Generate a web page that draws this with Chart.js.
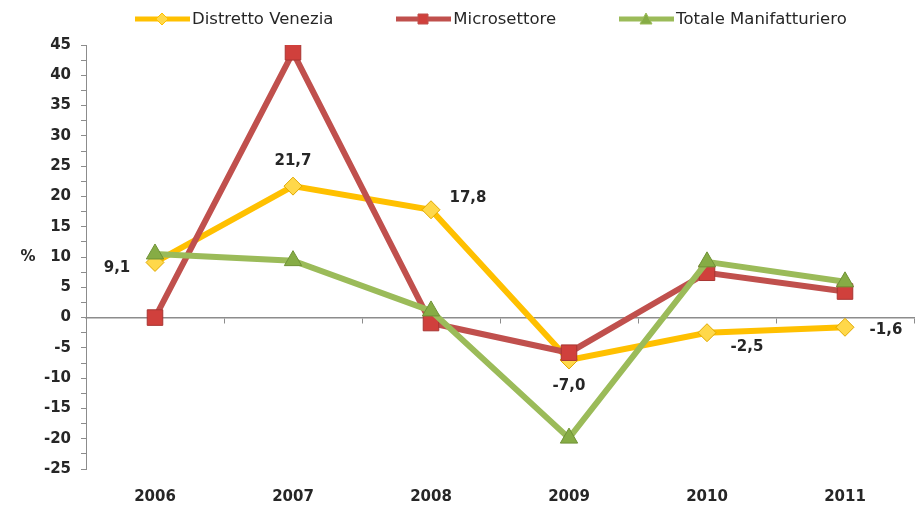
<!DOCTYPE html>
<html lang="it">
<head>
<meta charset="UTF-8">
<title>Variazione % 2006-2011</title>
<script src="https://cdn.jsdelivr.net/npm/chart.js"></script>
<style>
  html, body { margin: 0; padding: 0; background: #fff; }
  .contenitore { position: relative; width: 919px; height: 511px; }
  #legenda {
    position: absolute; top: 9px; left: 135px;
    display: flex; gap: 63px;
    font: 16.5px "DejaVu Sans"; color: #262626;
  }
  #legenda .voce { display: flex; align-items: center; gap: 2px; white-space: nowrap; }
  #legenda canvas { display: block; }
</style>
</head>
<body>
<div class="contenitore">
  <div id="legenda"></div>
  <canvas id="grafico"></canvas>
</div>
<script>
// dati
const anni = ['2006', '2007', '2008', '2009', '2010', '2011'];
const distrettoVenezia = [9.1, 21.7, 17.8, -7.0, -2.5, -1.6];
const microsettore = [0.0, 43.8, -0.9, -5.8, 7.4, 4.3];
const totaleManifatturiero = [10.5, 9.4, 1.1, -19.9, 9.2, 5.9];
const scalaMin = -25;
const scalaMax = 45;
const scalaPasso = 2.5;

const GIALLO = '#FFC000';
const ROSSO = '#C0504D';
const VERDE = '#9BBB59';
const TESTO = '#262626';
const ASSE = '#8c8c8c';

// icona linea + marcatore per la legenda
function iconaLegenda(colore, riempimento, forma) {
  const c = document.createElement('canvas');
  c.width = 55; c.height = 16;
  const g = c.getContext('2d');
  g.strokeStyle = colore;
  g.lineWidth = 5;
  g.beginPath(); g.moveTo(0, 8); g.lineTo(55, 8); g.stroke();
  g.fillStyle = riempimento;
  g.lineWidth = 1;
  g.beginPath();
  if (forma === 'rectRot') {
    g.moveTo(27, 2); g.lineTo(33, 8); g.lineTo(27, 14); g.lineTo(21, 8);
  } else if (forma === 'rect') {
    g.rect(22, 3, 10, 10);
  } else {
    g.moveTo(27, 2); g.lineTo(33, 13); g.lineTo(21, 13);
  }
  g.closePath(); g.fill(); g.stroke();
  return c;
}

// legenda html costruita dai dataset
const legendaHtml = {
  id: 'legendaHtml',
  afterUpdate(chart) {
    const box = document.getElementById('legenda');
    box.innerHTML = '';
    chart.data.datasets.forEach(function (ds) {
      const voce = document.createElement('div');
      voce.className = 'voce';
      voce.appendChild(iconaLegenda(ds.borderColor, ds.backgroundColor, ds.pointStyle));
      const t = document.createElement('span');
      t.textContent = ds.label;
      voce.appendChild(t);
      box.appendChild(voce);
    });
  }
};

// posizione delle etichette rispetto al punto (serie Distretto Venezia)
const spostamenti = [[-38, 6], [0, -25], [37, -12], [0, 26], [40, 14], [41, 3]];

function formato(v) {
  return v.toFixed(1).replace('.', ',');
}

const etichetteDati = {
  id: 'etichetteDati',
  afterDatasetsDraw(chart) {
    const meta = chart.getDatasetMeta(0);
    const ctx = chart.ctx;
    ctx.save();
    ctx.font = 'bold 15px "DejaVu Sans"';
    ctx.fillStyle = TESTO;
    ctx.textAlign = 'center';
    ctx.textBaseline = 'middle';
    meta.data.forEach(function (p, i) {
      ctx.fillText(formato(distrettoVenezia[i]), p.x + spostamenti[i][0], p.y + spostamenti[i][1]);
    });
    // simbolo percentuale accanto all'asse
    const y = chart.scales.y;
    ctx.fillText('%', 28, y.getPixelForValue(10));
    ctx.restore();
  }
};

const ctx = document.getElementById('grafico');
new Chart(ctx, {
  type: 'line',
  data: {
    labels: anni,
    datasets: [{
      label: 'Distretto Venezia',
      data: distrettoVenezia,
      borderColor: GIALLO,
      backgroundColor: '#FFD84A',
      pointBorderColor: '#E0A800',
      borderWidth: 6,
      pointStyle: 'rectRot',
      pointRadius: 9,
      pointBorderWidth: 1,
      order: 3
    }, {
      label: 'Microsettore',
      data: microsettore,
      borderColor: ROSSO,
      backgroundColor: '#D0403C',
      pointBorderColor: '#A83532',
      borderWidth: 6,
      pointStyle: 'rect',
      pointRadius: 11,
      pointBorderWidth: 1,
      order: 2
    }, {
      label: 'Totale Manifatturiero',
      data: totaleManifatturiero,
      borderColor: VERDE,
      backgroundColor: '#86AC45',
      pointBorderColor: '#6F9236',
      borderWidth: 6,
      pointStyle: 'triangle',
      pointRadius: 10,
      pointBorderWidth: 1,
      order: 1
    }]
  },
  options: {
    responsive: true,
    maintainAspectRatio: false,
    animation: false,
    layout: { autoPadding: false, padding: { top: 45, right: 5, left: 0, bottom: 0 } },
    plugins: {
      tooltip: { enabled: false },
      legend: { display: false }
    },
    scales: {
      x: {
        type: 'category',
        position: 'bottom',
        offset: true,
        grid: { display: false, drawTicks: false },
        border: { display: false },
        ticks: {
          color: TESTO,
          padding: 19,
          font: { family: '"DejaVu Sans"', size: 15, weight: 'bold' }
        },
        afterFit(scale) {
          scale.height = 42;
          scale.paddingLeft = 0;
          scale.paddingRight = 0;
        }
      },
      asseZero: {
        type: 'category',
        axis: 'x',
        position: { y: 0 },
        offset: true,
        grid: { drawOnChartArea: false, drawTicks: true, tickLength: 5, color: ASSE, offset: true },
        border: { display: true, color: ASSE, width: 1.5 },
        ticks: { display: false }
      },
      y: {
        min: scalaMin,
        max: scalaMax,
        grid: { drawOnChartArea: false, drawTicks: true, tickLength: 5, color: ASSE },
        border: { display: true, color: ASSE, width: 1 },
        ticks: {
          stepSize: scalaPasso,
          autoSkip: false,
          padding: 10,
          color: TESTO,
          font: { family: '"DejaVu Sans"', size: 15, weight: 'bold' },
          callback(v) { return v % 5 === 0 ? v : ''; }
        },
        afterFit(scale) { scale.width = 86; }
      }
    }
  },
  plugins: [legendaHtml, etichetteDati]
});
</script>
</body>
</html>
